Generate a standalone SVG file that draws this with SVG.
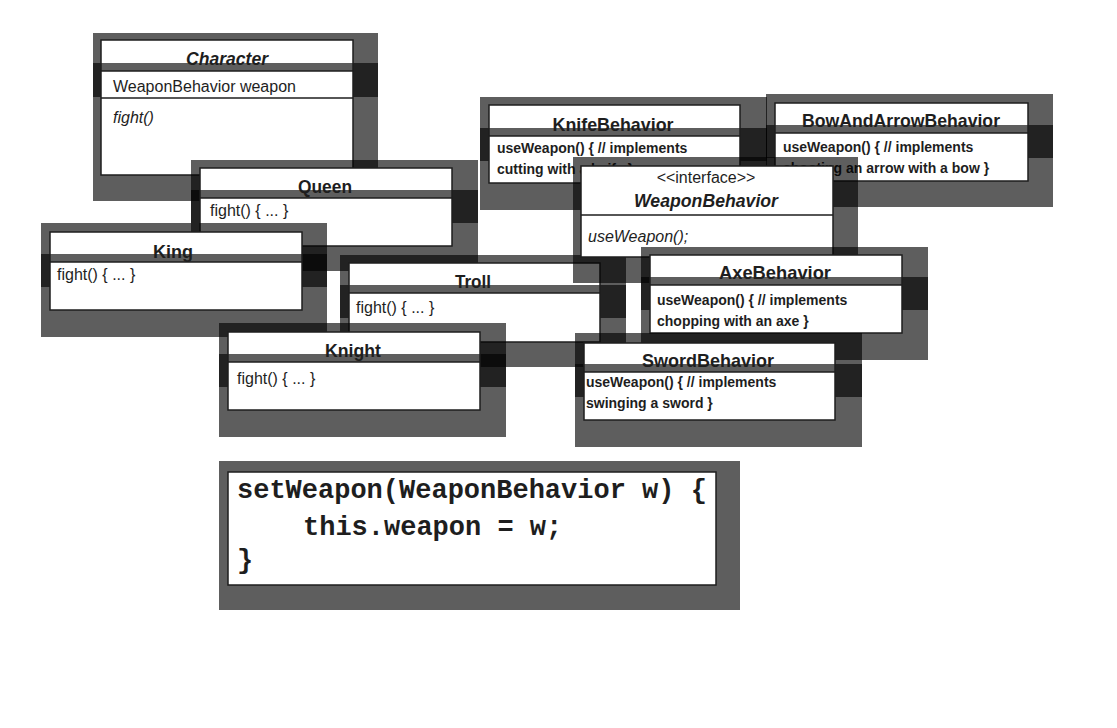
<svg xmlns="http://www.w3.org/2000/svg" width="1117" height="728" viewBox="0 0 1117 728">
<style>
.sh{fill:#000;fill-opacity:.63}
.wh{fill:#fff}
.ol{fill:none;stroke:#1e1e1e;stroke-width:1.5}
.sep{stroke:#1e1e1e;stroke-width:1.5}
text{fill:#1e1e1e;font-family:"Liberation Sans",Arial,sans-serif}
.t{font-size:19px;font-weight:bold;text-anchor:middle}
.tb{font-size:19px;font-weight:bold;text-anchor:middle}
.ti{font-size:18px;font-weight:bold;font-style:italic;text-anchor:middle}
.b{font-size:16px}
.i{font-size:16px;font-style:italic}
.bb{font-size:14px;font-weight:bold}
.code{font-family:"Liberation Mono","Courier New",monospace;font-size:27px;font-weight:bold}
</style>
<rect width="1117" height="728" fill="#fff"/>
<g id="connectors"/>

<g id="character">
<rect class="sh" x="93" y="33" width="285" height="168"/>
<rect class="wh" x="101" y="40" width="252" height="31"/>
<rect class="sh" x="93" y="63" width="285" height="34"/>
<rect class="wh" x="101" y="71" width="252" height="104"/>
<rect class="ol" x="101" y="40" width="252" height="135"/>
<line class="sep" x1="101" y1="71" x2="353" y2="71"/>
<line class="sep" x1="101" y1="98" x2="353" y2="98"/>
<text class="ti" x="227" y="65" textLength="82" lengthAdjust="spacingAndGlyphs">Character</text>
<text class="b" x="113" y="92">WeaponBehavior weapon</text>
<text class="i" x="113" y="123">fight()</text>
</g>

<g id="queen">
<rect class="sh" x="191" y="160" width="287" height="111"/>
<rect class="wh" x="200" y="168" width="252" height="30"/>
<rect class="sh" x="191" y="190" width="287" height="33"/>
<rect class="wh" x="200" y="198" width="252" height="48"/>
<rect class="ol" x="200" y="168" width="252" height="78"/>
<line class="sep" x1="200" y1="198" x2="452" y2="198"/>
<text class="t" x="325" y="193" textLength="54" lengthAdjust="spacingAndGlyphs">Queen</text>
<text class="b" x="210" y="216">fight() { ... }</text>
</g>

<g id="king">
<rect class="sh" x="41" y="223" width="286" height="114"/>
<rect class="wh" x="50" y="232" width="252" height="30"/>
<rect class="sh" x="41" y="254" width="286" height="33"/>
<rect class="wh" x="50" y="262" width="252" height="48"/>
<rect class="ol" x="50" y="232" width="252" height="78"/>
<line class="sep" x1="50" y1="262" x2="302" y2="262"/>
<text class="t" x="173" y="258" textLength="40" lengthAdjust="spacingAndGlyphs">King</text>
<text class="b" x="57" y="280">fight() { ... }</text>
</g>

<g id="troll">
<rect class="sh" x="340" y="255" width="286" height="112"/>
<rect class="wh" x="349" y="263" width="251" height="30"/>
<rect class="sh" x="340" y="285" width="286" height="33"/>
<rect class="wh" x="349" y="293" width="251" height="49"/>
<rect class="ol" x="349" y="263" width="251" height="79"/>
<line class="sep" x1="349" y1="293" x2="600" y2="293"/>
<text class="t" x="473" y="288" textLength="36" lengthAdjust="spacingAndGlyphs">Troll</text>
<text class="b" x="356" y="313">fight() { ... }</text>
</g>

<g id="knight">
<rect class="sh" x="219" y="323" width="287" height="114"/>
<rect class="wh" x="228" y="332" width="252" height="30"/>
<rect class="sh" x="219" y="354" width="287" height="33"/>
<rect class="wh" x="228" y="362" width="252" height="48"/>
<rect class="ol" x="228" y="332" width="252" height="78"/>
<line class="sep" x1="228" y1="362" x2="480" y2="362"/>
<text class="t" x="353" y="357" textLength="56" lengthAdjust="spacingAndGlyphs">Knight</text>
<text class="b" x="237" y="384">fight() { ... }</text>
</g>

<g id="knifebehavior">
<rect class="sh" x="480" y="97" width="287" height="113"/>
<rect class="wh" x="489" y="105" width="251" height="31"/>
<rect class="sh" x="480" y="128" width="287" height="33"/>
<rect class="wh" x="489" y="136" width="251" height="47"/>
<rect class="ol" x="489" y="105" width="251" height="78"/>
<line class="sep" x1="489" y1="136" x2="740" y2="136"/>
<text class="tb" x="613" y="131" textLength="121" lengthAdjust="spacingAndGlyphs">KnifeBehavior</text>
<text class="bb" x="497" y="153">useWeapon() { // implements</text>
<text class="bb" x="497" y="174">cutting with a knife }</text>
</g>

<g id="bowandarrowbehavior">
<rect class="sh" x="766" y="94" width="287" height="113"/>
<rect class="wh" x="775" y="103" width="253" height="30"/>
<rect class="sh" x="766" y="125" width="287" height="33"/>
<rect class="wh" x="775" y="133" width="253" height="48"/>
<rect class="ol" x="775" y="103" width="253" height="78"/>
<line class="sep" x1="775" y1="133" x2="1028" y2="133"/>
<text class="tb" x="901" y="127" textLength="198" lengthAdjust="spacingAndGlyphs">BowAndArrowBehavior</text>
<text class="bb" x="783" y="152">useWeapon() { // implements</text>
<text class="bb" x="783" y="173">shooting an arrow with a bow }</text>
</g>

<g id="weaponbehavior">
<rect class="sh" x="573" y="157" width="285" height="126"/>
<rect class="wh" x="581" y="166" width="252" height="91"/>
<rect class="ol" x="581" y="166" width="252" height="91"/>
<line class="sep" x1="581" y1="215" x2="833" y2="215"/>
<text class="b" x="706" y="183" text-anchor="middle">&lt;&lt;interface&gt;&gt;</text>
<text class="ti" x="706" y="207" style="font-size:19px" textLength="144" lengthAdjust="spacingAndGlyphs">WeaponBehavior</text>
<text class="i" x="588" y="242">useWeapon();</text>
</g>

<g id="axebehavior">
<rect class="sh" x="641" y="247" width="287" height="113"/>
<rect class="wh" x="650" y="255" width="252" height="30"/>
<rect class="sh" x="641" y="277" width="287" height="33"/>
<rect class="wh" x="650" y="285" width="252" height="48"/>
<rect class="ol" x="650" y="255" width="252" height="78"/>
<line class="sep" x1="650" y1="285" x2="902" y2="285"/>
<text class="tb" x="775" y="279" textLength="112" lengthAdjust="spacingAndGlyphs">AxeBehavior</text>
<text class="bb" x="657" y="305">useWeapon() { // implements</text>
<text class="bb" x="657" y="326">chopping with an axe }</text>
</g>

<g id="swordbehavior">
<rect class="sh" x="575" y="333" width="287" height="114"/>
<rect class="wh" x="584" y="343" width="251" height="29"/>
<rect class="sh" x="575" y="364" width="287" height="33"/>
<rect class="wh" x="584" y="372" width="251" height="48"/>
<rect class="ol" x="584" y="343" width="251" height="77"/>
<line class="sep" x1="584" y1="372" x2="835" y2="372"/>
<text class="tb" x="708" y="367" textLength="132" lengthAdjust="spacingAndGlyphs">SwordBehavior</text>
<text class="bb" x="586" y="387">useWeapon() { // implements</text>
<text class="bb" x="586" y="408">swinging a sword }</text>
</g>

<g id="setweapon">
<rect class="sh" x="219" y="461" width="521" height="149"/>
<rect class="wh" x="228" y="472" width="488" height="113"/>
<rect class="ol" x="228" y="472" width="488" height="113"/>
<text class="code" x="237" y="498">setWeapon(WeaponBehavior w) {</text>
<text class="code" x="303" y="535">this.weapon = w;</text>
<text class="code" x="237" y="568">}</text>
</g>
</svg>
